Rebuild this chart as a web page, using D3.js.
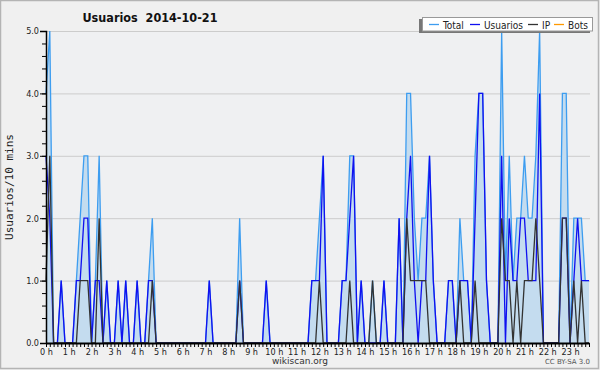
<!DOCTYPE html>
<html>
<head>
<meta charset="utf-8">
<script src="https://cdn.jsdelivr.net/npm/d3@7"></script>
<style>
  body { margin: 0; background: #f0f0f0; }
  svg { display: block; font-family: "DejaVu Sans", sans-serif; }
</style>
</head>
<body>
<svg id="chart" width="600" height="370"></svg>
<script>
// Values per 10-minute slot (144 slots, 0 h .. 23 h 50)
var hours = d3.range(24).map(function (h) { return h + " h"; });
var yTicks = [0, 1, 2, 3, 4, 5];

var total = [
  4,5,0,0,1,0,0,0,1,2,3,3,0,1,3,0,1,0,0,1,0,1,0,0,1,0,0,1,2,0,
  0,0,0,0,0,0,0,0,0,0,0,0,0,1,0,0,0,0,0,0,0,2,0,0,0,0,0,0,1,0,
  0,0,0,0,0,0,0,0,0,0,1,1,2,3,0,0,0,0,1,1,3,3,0,1,0,0,1,0,0,1,
  0,0,0,2,0,4,4,2,1,2,2,3,1,0,0,0,1,1,0,2,1,1,0,3,4,4,1,0,0,0,
  5,1,3,1,2,2,3,2,2,3,5,0,0,0,0,0,4,4,0,2,2,2,1,1
];
var usuarios = [
  3,2,0,0,1,0,0,0,1,1,2,2,0,1,1,0,1,0,0,1,0,1,0,0,1,0,0,1,1,0,
  0,0,0,0,0,0,0,0,0,0,0,0,0,1,0,0,0,0,0,0,0,1,0,0,0,0,0,0,1,0,
  0,0,0,0,0,0,0,0,0,0,1,1,1,3,0,0,0,0,1,1,2,3,0,1,0,0,0,0,0,1,
  0,0,0,2,0,2,3,1,0,1,1,3,1,0,0,0,1,1,0,1,1,1,0,2,4,4,1,0,0,0,
  3,0,2,1,1,2,2,1,1,1,4,0,0,0,0,0,2,2,0,1,2,1,1,1
];
var ip = [
  1,3,0,0,0,0,0,0,0,1,1,1,0,0,2,0,0,0,0,0,0,0,0,0,0,0,0,0,1,0,
  0,0,0,0,0,0,0,0,0,0,0,0,0,0,0,0,0,0,0,0,0,1,0,0,0,0,0,0,0,0,
  0,0,0,0,0,0,0,0,0,0,0,0,1,0,0,0,0,0,0,0,1,0,0,0,0,0,1,0,0,0,
  0,0,0,0,0,2,1,1,1,1,1,0,0,0,0,0,0,0,0,1,0,0,0,1,0,0,0,0,0,0,
  2,1,1,0,1,0,1,1,1,2,1,0,0,0,0,0,2,2,0,1,0,1,0,0
];
var bots = total.map(function () { return 0; });

var series = [
  { name: "Total", values: total, color: "#3d9df0" },
  { name: "Usuarios", values: usuarios, color: "#1010f0" },
  { name: "IP", values: ip, color: "#333333" },
  { name: "Bots", values: bots, color: "#ff9900" }
];

var svg = d3.select("#chart");

// outer frame
svg.append("rect")
  .attr("x", 0.5).attr("y", 0.5).attr("width", 598).attr("height", 368)
  .attr("fill", "#f0f0f0").attr("stroke", "#b4b4b4").attr("stroke-width", 1.5);

var x = d3.scaleLinear().domain([0, 143]).range([46, 589]);
var y = d3.scaleLinear().domain([0, 5]).range([343, 31]);

// plot background
svg.append("rect")
  .attr("x", x(0)).attr("y", y(5))
  .attr("width", x(143) - x(0) + 1).attr("height", y(0) - y(5))
  .attr("fill", "#eff0f2");

// grid
svg.append("g").selectAll("line")
  .data(yTicks.slice(1))
  .enter().append("line")
  .attr("x1", x(0)).attr("x2", x(143) + 1)
  .attr("y1", function (d) { return y(d) + 0.5; })
  .attr("y2", function (d) { return y(d) + 0.5; })
  .attr("stroke", "#cccccc").attr("stroke-width", 1);

var line = d3.line()
  .x(function (d, i) { return x(i); })
  .y(function (d) { return y(d); });

// bots drawn first so it stays under the area and the axis
svg.append("path")
  .datum(bots)
  .attr("d", line)
  .attr("fill", "none")
  .attr("stroke", "#ff9900")
  .attr("stroke-width", 1);

// total area
var area = d3.area()
  .x(function (d, i) { return x(i); })
  .y0(y(0))
  .y1(function (d) { return y(d); });

svg.append("path")
  .datum(total)
  .attr("d", area)
  .attr("fill", "#c4dcef");

series.slice(0, 3).forEach(function (s) {
  svg.append("path")
    .datum(s.values)
    .attr("d", line)
    .attr("fill", "none")
    .attr("stroke", s.color)
    .attr("stroke-width", 1.3);
});

// y axis: minor ticks every 0.2, major with labels
svg.append("g")
  .attr("transform", "translate(" + x(0) + ",0)")
  .call(d3.axisLeft(y).tickValues(d3.range(0, 5.01, 0.2)).tickSize(4).tickFormat(""))
  .call(function (g) { g.select(".domain").remove(); });

var yAxis = svg.append("g")
  .attr("transform", "translate(" + x(0) + ",0)")
  .call(d3.axisLeft(y).tickValues(yTicks).tickSize(6).tickPadding(1)
    .tickFormat(function (d) { return d.toFixed(1); }));
yAxis.selectAll("text").attr("font-size", 9).attr("font-family", "DejaVu Sans Condensed, DejaVu Sans").attr("fill", "#222");
yAxis.select(".domain").attr("stroke-width", 1.5);

// x axis: tick every slot, labels every hour
var xAxis = svg.append("g")
  .attr("transform", "translate(0," + y(0) + ")")
  .call(d3.axisBottom(x).tickValues(d3.range(0, 144)).tickSize(4).tickSizeOuter(0)
    .tickFormat(function (d) { return d % 6 === 0 ? hours[d / 6] : ""; }));
xAxis.selectAll("text").attr("font-size", 9).attr("dy", "0.55em")
  .attr("font-family", "DejaVu Sans Condensed, DejaVu Sans").attr("fill", "#222");
xAxis.select(".domain").attr("stroke-width", 2);

// title
svg.append("text")
  .attr("x", 150).attr("y", 22)
  .attr("text-anchor", "middle")
  .attr("font-size", 12.5).attr("font-weight", "bold")
  .attr("font-family", "DejaVu Sans Condensed, DejaVu Sans")
  .attr("fill", "#111")
  .style("white-space", "pre")
  .text("Usuarios  2014-10-21");

// y label
svg.append("text")
  .attr("transform", "translate(13," + 187 + ") rotate(-90)")
  .attr("text-anchor", "middle")
  .attr("font-size", 11)
  .attr("font-family", "DejaVu Sans Mono")
  .attr("fill", "#222")
  .text("Usuarios/10 mins");

// footer
svg.append("text")
  .attr("x", 300).attr("y", 364)
  .attr("text-anchor", "middle")
  .attr("font-size", 9).attr("fill", "#333")
  .text("wikiscan.org");

svg.append("text")
  .attr("x", 590).attr("y", 364)
  .attr("text-anchor", "end")
  .attr("font-size", 7).attr("fill", "#555")
  .text("CC BY-SA 3.0");

// legend
var legend = svg.append("g");
legend.append("rect")
  .attr("x", 419).attr("y", 19).attr("width", 171).attr("height", 14)
  .attr("fill", "#777");
legend.append("rect")
  .attr("x", 422.5).attr("y", 17.5).attr("width", 170).attr("height", 13.5)
  .attr("fill", "#ffffff").attr("stroke", "#999").attr("stroke-width", 1);

var legendTextX = [443, 484, 542, 568];
legend.selectAll(".lg-line")
  .data(series)
  .enter().append("line")
  .attr("x1", function (d, i) { return legendTextX[i] - 14; })
  .attr("x2", function (d, i) { return legendTextX[i] - 4; })
  .attr("y1", 24.5).attr("y2", 24.5)
  .attr("stroke", function (d) { return d.color; })
  .attr("stroke-width", 1.3);
legend.selectAll(".lg-text")
  .data(series)
  .enter().append("text")
  .attr("x", function (d, i) { return legendTextX[i]; })
  .attr("y", 28.5)
  .attr("font-size", 10)
  .attr("font-family", "DejaVu Sans Condensed, DejaVu Sans")
  .attr("fill", "#222")
  .text(function (d) { return d.name; });
</script>
</body>
</html>
